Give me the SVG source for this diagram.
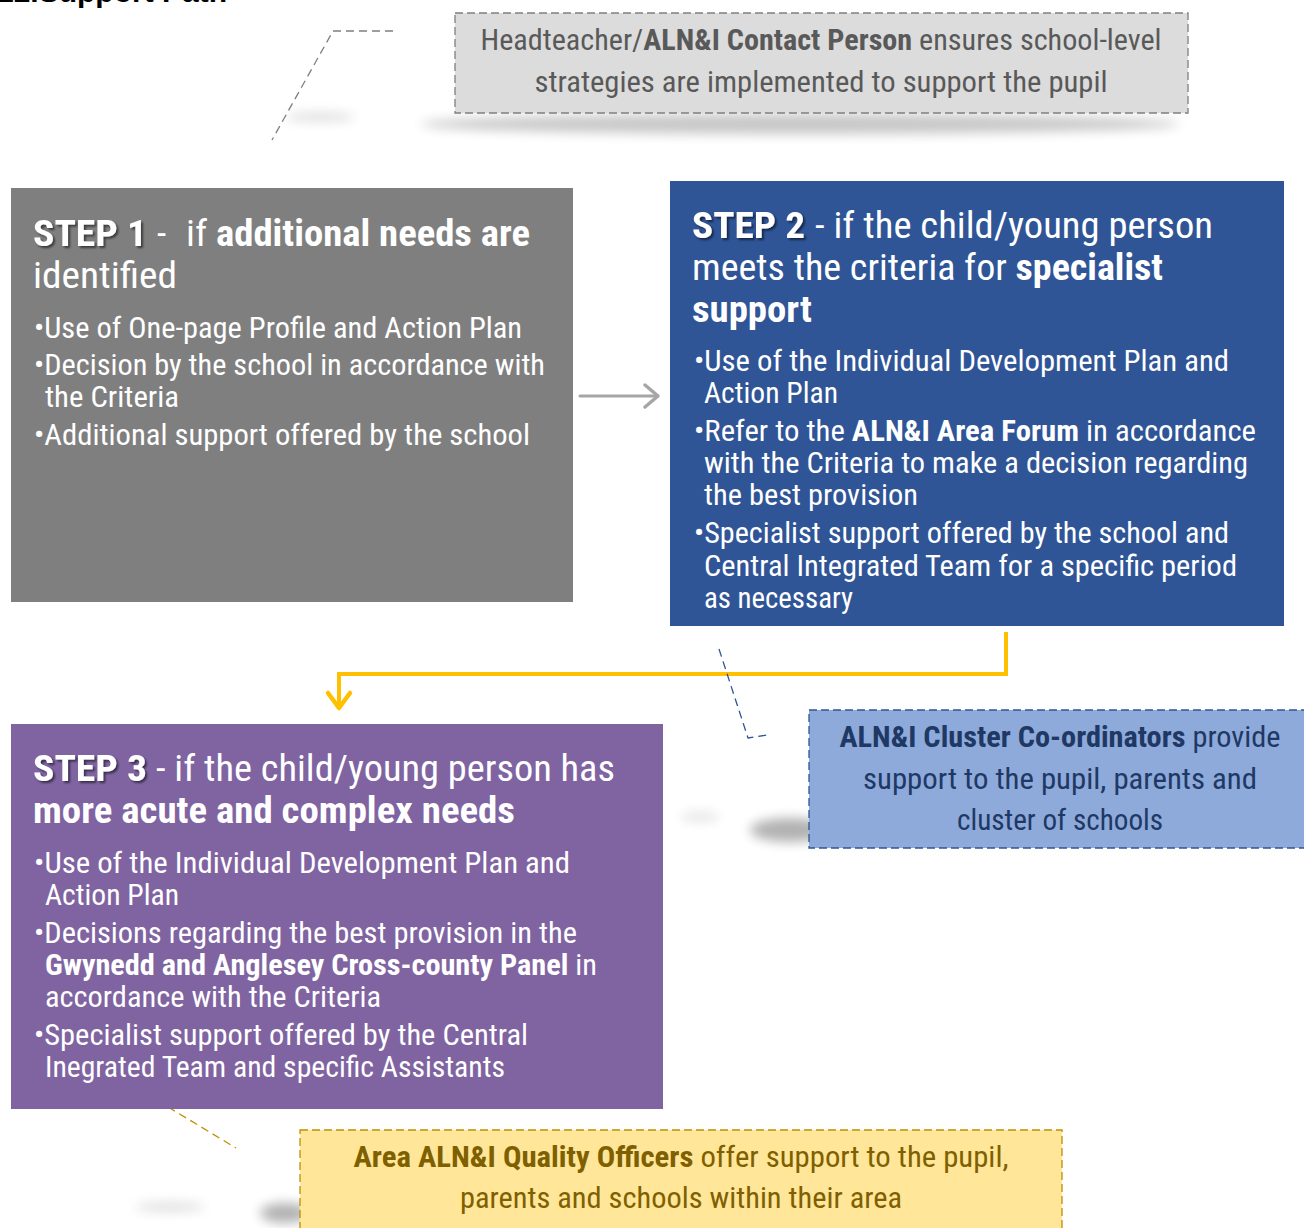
<svg xmlns="http://www.w3.org/2000/svg" width="1304" height="1228" viewBox="0 0 1304 1228">
<defs>
<filter id="blur" x="-50%" y="-100%" width="200%" height="300%"><feGaussianBlur stdDeviation="6"/></filter>
<filter id="tsh" x="-10%" y="-20%" width="130%" height="150%"><feDropShadow dx="2" dy="2" stdDeviation="1.2" flood-color="#000" flood-opacity="0.55"/></filter>
</defs>
<style>
text{font-family:"Liberation Sans Narrow","Roboto Condensed","DejaVu Sans Condensed","Liberation Sans",sans-serif;}
.b{font-weight:bold;}
.title{font-size:37px;fill:#fff;}
.body{font-size:30px;fill:#fff;}
.co{font-size:29px;text-anchor:middle;}
.step{font-size:37px;font-weight:bold;fill:#fff;filter:url(#tsh);}
</style>
<text x="-3" y="2" style="font-family:'Liberation Sans',sans-serif;font-size:30px;font-weight:bold;fill:#000">12.Support Path</text>

<g id="shadows" fill="#000">
<ellipse cx="800" cy="124" rx="380" ry="10" opacity="0.22" filter="url(#blur)"/>
<ellipse cx="320" cy="117" rx="35" ry="5" opacity="0.12" filter="url(#blur)"/>
<ellipse cx="790" cy="830" rx="40" ry="12" opacity="0.3" filter="url(#blur)"/>
<ellipse cx="700" cy="817" rx="20" ry="5" opacity="0.1" filter="url(#blur)"/>
<ellipse cx="285" cy="1213" rx="25" ry="10" opacity="0.3" filter="url(#blur)"/>
<ellipse cx="170" cy="1207" rx="35" ry="5" opacity="0.12" filter="url(#blur)"/>
</g>

<g id="connectors" fill="none" stroke-linecap="round" stroke-linejoin="round">
<path d="M393,31 L333,31 L272,140" stroke="#7f7f7f" stroke-width="1.3" stroke-dasharray="8,5" stroke-linecap="butt"/>
<line x1="580" y1="396" x2="657" y2="396" stroke="#a6a6a6" stroke-width="3"/>
<path d="M645,385 L658,396 L645,407" stroke="#a6a6a6" stroke-width="3.5"/>
<path d="M1006,632 L1006,674 L339,674 L339,708" stroke="#ffc000" stroke-width="4" stroke-linecap="butt" stroke-linejoin="miter"/>
<path d="M328,693 L339,708 L350,693" stroke="#ffc000" stroke-width="4.5"/>
<path d="M719,649 L748,738 L767,735" stroke="#2f5597" stroke-width="1.3" stroke-dasharray="8,5" stroke-linecap="butt"/>
<line x1="168" y1="1107" x2="236" y2="1148" stroke="#bf9000" stroke-width="1.3" stroke-dasharray="8,5" stroke-linecap="butt"/>
</g>

<g id="callout-head">
<rect x="455" y="13" width="733" height="100" fill="#dcdcdc" stroke="#7f7f7f" stroke-width="1.3" stroke-dasharray="8,4"/>
<text class="co" x="821" y="50" fill="#595959" textLength="681" lengthAdjust="spacingAndGlyphs">Headteacher/<tspan class="b">ALN&amp;I Contact Person</tspan> ensures school-level</text>
<text class="co" x="821" y="92" fill="#595959" textLength="573" lengthAdjust="spacingAndGlyphs">strategies are implemented to support the pupil</text>
</g>

<g id="step1">
<rect x="11" y="188" width="562" height="414" fill="#7f7f7f"/>
<text class="step" x="33" y="246" textLength="114" lengthAdjust="spacingAndGlyphs">STEP 1</text>
<text class="title" x="157" y="246">-</text>
<text class="title" x="186" y="246" textLength="344" lengthAdjust="spacingAndGlyphs">if <tspan class="b">additional needs are</tspan></text>
<text class="title" x="33" y="288" textLength="144" lengthAdjust="spacingAndGlyphs">identified</text>
<text class="body" x="34" y="338" textLength="488" lengthAdjust="spacingAndGlyphs">•Use of One-page Profile and Action Plan</text>
<text class="body" x="34" y="375" textLength="511" lengthAdjust="spacingAndGlyphs">•Decision by the school in accordance with</text>
<text class="body" x="45" y="407" textLength="134" lengthAdjust="spacingAndGlyphs">the Criteria</text>
<text class="body" x="34" y="445" textLength="496" lengthAdjust="spacingAndGlyphs">•Additional support offered by the school</text>
</g>

<g id="step2">
<rect x="670" y="181" width="614" height="445" fill="#2f5597"/>
<text class="step" x="692" y="238" textLength="113" lengthAdjust="spacingAndGlyphs">STEP 2</text>
<text class="title" x="815" y="238" textLength="398" lengthAdjust="spacingAndGlyphs">- if the child/young person</text>
<text class="title" x="692" y="280" textLength="471" lengthAdjust="spacingAndGlyphs">meets the criteria for <tspan class="b">specialist</tspan></text>
<text class="title b" x="692" y="322" textLength="120" lengthAdjust="spacingAndGlyphs">support</text>
<text class="body" x="694" y="371" textLength="535" lengthAdjust="spacingAndGlyphs">•Use of the Individual Development Plan and</text>
<text class="body" x="704" y="403" textLength="134" lengthAdjust="spacingAndGlyphs">Action Plan</text>
<text class="body" x="694" y="441" textLength="562" lengthAdjust="spacingAndGlyphs">•Refer to the <tspan class="b">ALN&amp;I Area Forum</tspan> in accordance</text>
<text class="body" x="704" y="473" textLength="544" lengthAdjust="spacingAndGlyphs">with the Criteria to make a decision regarding</text>
<text class="body" x="704" y="505" textLength="214" lengthAdjust="spacingAndGlyphs">the best provision</text>
<text class="body" x="694" y="543" textLength="535" lengthAdjust="spacingAndGlyphs">•Specialist support offered by the school and</text>
<text class="body" x="704" y="576" textLength="533" lengthAdjust="spacingAndGlyphs">Central Integrated Team for a specific period</text>
<text class="body" x="704" y="608" textLength="149" lengthAdjust="spacingAndGlyphs">as necessary</text>
</g>

<g id="callout-cluster">
<rect x="809" y="710" width="510" height="138" fill="#8eaadb" stroke="#2f5597" stroke-width="1.3" stroke-dasharray="8,4"/>
<text class="co" x="1060" y="747" fill="#203864" textLength="441" lengthAdjust="spacingAndGlyphs"><tspan class="b">ALN&amp;I Cluster Co-ordinators</tspan> provide</text>
<text class="co" x="1060" y="789" fill="#203864" textLength="394" lengthAdjust="spacingAndGlyphs">support to the pupil, parents and</text>
<text class="co" x="1060" y="830" fill="#203864" textLength="206" lengthAdjust="spacingAndGlyphs">cluster of schools</text>
</g>

<g id="step3">
<rect x="11" y="724" width="652" height="385" fill="#8064a2"/>
<text class="step" x="33" y="781" textLength="114" lengthAdjust="spacingAndGlyphs">STEP 3</text>
<text class="title" x="156" y="781" textLength="459" lengthAdjust="spacingAndGlyphs">- if the child/young person has</text>
<text class="title b" x="33" y="823" textLength="482" lengthAdjust="spacingAndGlyphs">more acute and complex needs</text>
<text class="body" x="34" y="873" textLength="536" lengthAdjust="spacingAndGlyphs">•Use of the Individual Development Plan and</text>
<text class="body" x="45" y="905" textLength="134" lengthAdjust="spacingAndGlyphs">Action Plan</text>
<text class="body" x="34" y="943" textLength="543" lengthAdjust="spacingAndGlyphs">•Decisions regarding the best provision in the</text>
<text class="body" x="45" y="975" textLength="552" lengthAdjust="spacingAndGlyphs"><tspan class="b">Gwynedd and Anglesey Cross-county Panel</tspan> in</text>
<text class="body" x="45" y="1007" textLength="336" lengthAdjust="spacingAndGlyphs">accordance with the Criteria</text>
<text class="body" x="34" y="1045" textLength="494" lengthAdjust="spacingAndGlyphs">•Specialist support offered by the Central</text>
<text class="body" x="45" y="1077" textLength="460" lengthAdjust="spacingAndGlyphs">Inegrated Team and specific Assistants</text>
</g>

<g id="callout-quality">
<rect x="300" y="1130" width="762" height="110" fill="#ffe699" stroke="#bf9000" stroke-width="1.3" stroke-dasharray="8,4"/>
<text class="co" x="681" y="1167" fill="#7f6000" textLength="655" lengthAdjust="spacingAndGlyphs"><tspan class="b">Area ALN&amp;I Quality Officers</tspan> offer support to the pupil,</text>
<text class="co" x="681" y="1208" fill="#7f6000" textLength="442" lengthAdjust="spacingAndGlyphs">parents and schools within their area</text>
</g>
</svg>
